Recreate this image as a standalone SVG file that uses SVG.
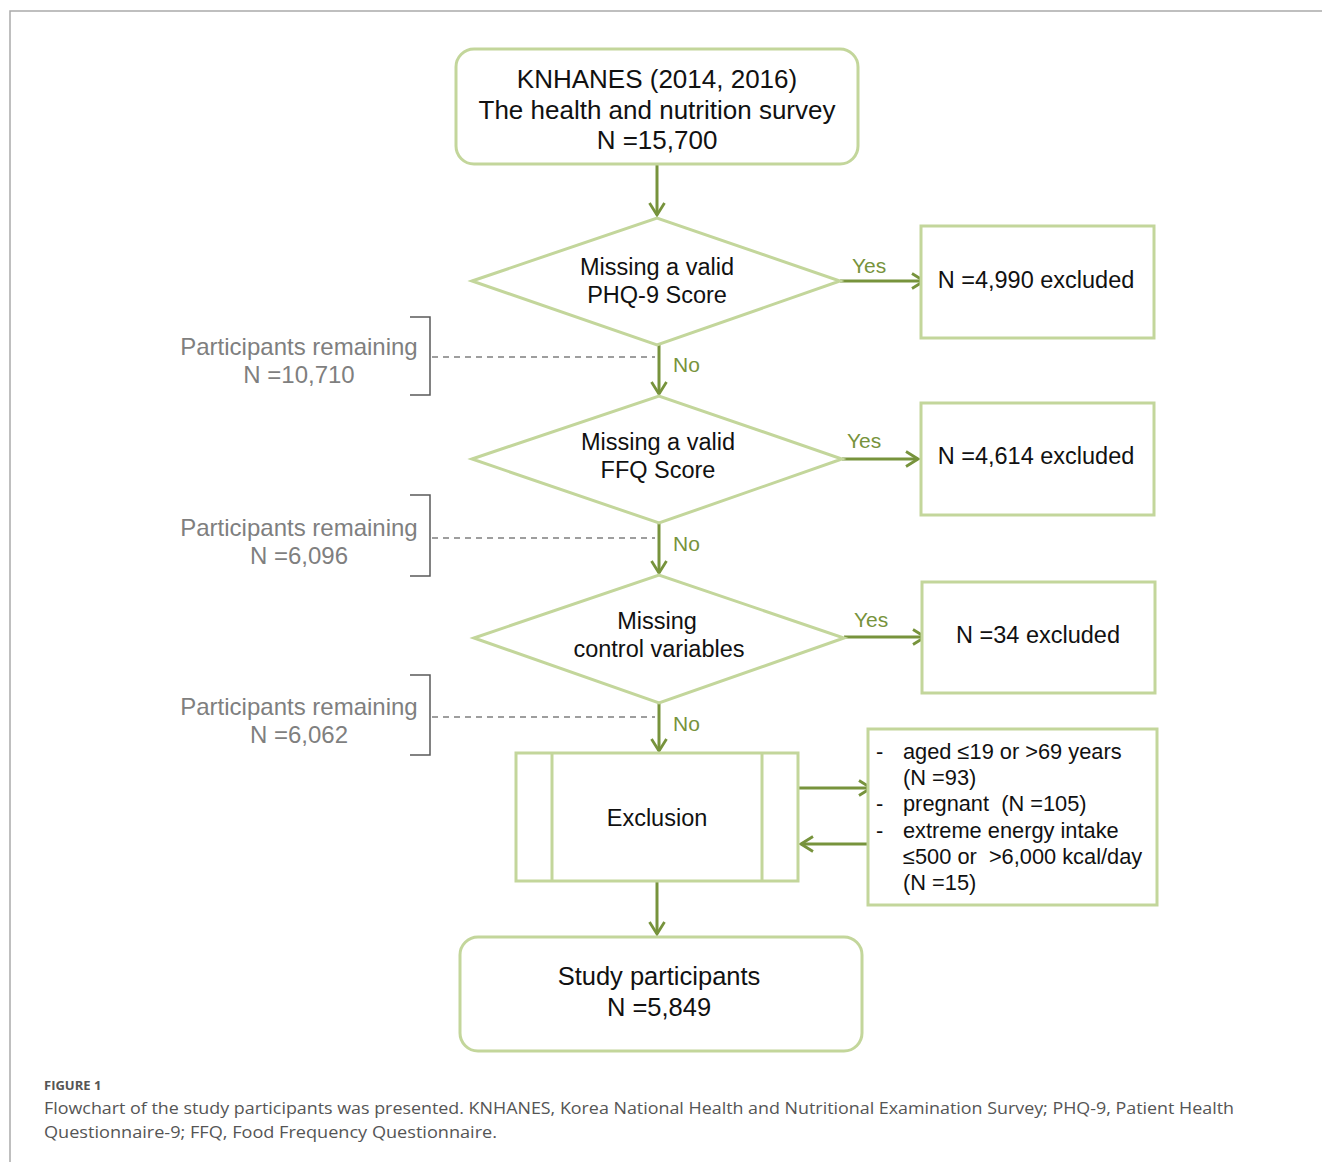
<svg xmlns="http://www.w3.org/2000/svg" width="1322" height="1162" viewBox="0 0 1322 1162">
<style>
.box{fill:#fff;stroke:#c3d69b;stroke-width:3}
.t{font-family:"Liberation Sans",Arial,sans-serif;fill:#111;text-anchor:middle}
.g{font-family:"Liberation Sans",Arial,sans-serif;fill:#7f7f7f;text-anchor:middle;font-size:24px}
.yn{font-family:"Liberation Sans",Arial,sans-serif;fill:#77933c;font-size:21px}
.arr{stroke:#77933c;stroke-width:3;fill:none}
.dash{stroke:#7f7f7f;stroke-width:1.5;stroke-dasharray:6 5;fill:none}
.br{stroke:#595959;stroke-width:1.5;fill:none}
.cap{font-family:"Open Sans","Liberation Sans",sans-serif;fill:#555}
</style>
<defs>
<marker id="ah" viewBox="0 0 16 18" refX="14" refY="9" markerWidth="16" markerHeight="18" markerUnits="userSpaceOnUse" orient="auto">
<path d="M2,1.5 L14,9 L2,16.5" fill="none" stroke="#77933c" stroke-width="2.8"/>
</marker>
</defs>
<rect x="0" y="0" width="1322" height="1162" fill="#fff"/>
<path d="M10,1162 V11 H1322" fill="none" stroke="#aaa" stroke-width="1.5"/>

<g id="connectors">
<line class="arr" x1="657" y1="164" x2="657" y2="215" marker-end="url(#ah)"/>
<line class="arr" x1="840" y1="281" x2="924" y2="281" marker-end="url(#ah)"/>
<line class="arr" x1="659" y1="345" x2="659" y2="394" marker-end="url(#ah)"/>
<line class="arr" x1="842" y1="459" x2="918" y2="459" marker-end="url(#ah)"/>
<line class="arr" x1="659" y1="523" x2="659" y2="573" marker-end="url(#ah)"/>
<line class="arr" x1="844" y1="637" x2="925" y2="637" marker-end="url(#ah)"/>
<line class="arr" x1="659" y1="703" x2="659" y2="751" marker-end="url(#ah)"/>
<line class="arr" x1="798" y1="788" x2="871" y2="788" marker-end="url(#ah)"/>
<line class="arr" x1="868" y1="844" x2="801" y2="844" marker-end="url(#ah)"/>
<line class="arr" x1="657" y1="881" x2="657" y2="934" marker-end="url(#ah)"/>
<text class="yn" x="852" y="273">Yes</text>
<text class="yn" x="847" y="448">Yes</text>
<text class="yn" x="854" y="627">Yes</text>
<text class="yn" x="673" y="372">No</text>
<text class="yn" x="673" y="551">No</text>
<text class="yn" x="673" y="731">No</text>
<line class="dash" x1="432" y1="357" x2="655" y2="357"/>
<line class="dash" x1="432" y1="538" x2="655" y2="538"/>
<line class="dash" x1="432" y1="717" x2="655" y2="717"/>
</g>

<g id="start">
<rect class="box" x="456" y="49" width="402" height="115" rx="18"/>
<text class="t" font-size="26" x="657" y="88">KNHANES (2014, 2016)</text>
<text class="t" font-size="26" x="657" y="119">The health and nutrition survey</text>
<text class="t" font-size="26" x="657" y="149">N =15,700</text>
</g>

<g id="d1">
<polygon class="box" points="472,281 657,218 840,281 657,345"/>
<text class="t" font-size="23.5" x="657" y="275">Missing a valid</text>
<text class="t" font-size="23.5" x="657" y="303">PHQ-9 Score</text>
</g>
<g id="x1">
<rect class="box" x="921" y="226" width="233" height="112"/>
<text class="t" font-size="23.5" x="1036" y="288">N =4,990 excluded</text>
</g>

<g id="d2">
<polygon class="box" points="472,459 659,396 842,459 659,523"/>
<text class="t" font-size="23.5" x="658" y="450">Missing a valid</text>
<text class="t" font-size="23.5" x="658" y="478">FFQ Score</text>
</g>
<g id="x2">
<rect class="box" x="921" y="403" width="233" height="112"/>
<text class="t" font-size="23.5" x="1036" y="464">N =4,614 excluded</text>
</g>

<g id="d3">
<polygon class="box" points="474,638 659,575 844,638 659,703"/>
<text class="t" font-size="23.5" x="657" y="629">Missing</text>
<text class="t" font-size="23.5" x="659" y="657">control variables</text>
</g>
<g id="x3">
<rect class="box" x="922" y="582" width="233" height="111"/>
<text class="t" font-size="23.5" x="1038" y="643">N =34 excluded</text>
</g>

<g id="exclusion">
<rect class="box" x="516" y="753" width="282" height="128"/>
<line class="box" x1="552" y1="753" x2="552" y2="881"/>
<line class="box" x1="762" y1="753" x2="762" y2="881"/>
<text class="t" font-size="23.5" x="657" y="826">Exclusion</text>
</g>

<g id="criteria">
<rect class="box" x="868" y="729" width="289" height="176"/>
<g font-family="Liberation Sans,Arial,sans-serif" font-size="21.8" fill="#111">
<text x="876" y="759">-</text>
<text x="903" y="759">aged ≤19 or &gt;69 years</text>
<text x="903" y="785">(N =93)</text>
<text x="876" y="811">-</text>
<text x="903" y="811" xml:space="preserve">pregnant  (N =105)</text>
<text x="876" y="838">-</text>
<text x="903" y="838">extreme energy intake</text>
<text x="903" y="864" xml:space="preserve">≤500 or  &gt;6,000 kcal/day</text>
<text x="903" y="890">(N =15)</text>
</g>
</g>

<g id="end">
<rect class="box" x="460" y="937" width="402" height="114" rx="18"/>
<text class="t" font-size="25.5" x="659" y="985">Study participants</text>
<text class="t" font-size="25.5" x="659" y="1016">N =5,849</text>
</g>

<g id="r1">
<text class="g" x="299" y="355">Participants remaining</text>
<text class="g" x="299" y="383">N =10,710</text>
<path class="br" d="M410,317 H430 V395 H410"/>
</g>
<g id="r2">
<text class="g" x="299" y="536">Participants remaining</text>
<text class="g" x="299" y="564">N =6,096</text>
<path class="br" d="M410,495 H430 V576 H410"/>
</g>
<g id="r3">
<text class="g" x="299" y="715">Participants remaining</text>
<text class="g" x="299" y="743">N =6,062</text>
<path class="br" d="M410,675 H430 V755 H410"/>
</g>

<g id="caption">
<text class="cap" x="44" y="1090" font-size="13" font-weight="bold" fill="#555">FIGURE 1</text>
<text class="cap" x="44" y="1114" font-size="17" textLength="1190" lengthAdjust="spacingAndGlyphs">Flowchart of the study participants was presented. KNHANES, Korea National Health and Nutritional Examination Survey; PHQ-9, Patient Health</text>
<text class="cap" x="44" y="1138" font-size="17" textLength="453" lengthAdjust="spacingAndGlyphs">Questionnaire-9; FFQ, Food Frequency Questionnaire.</text>
</g>
</svg>
